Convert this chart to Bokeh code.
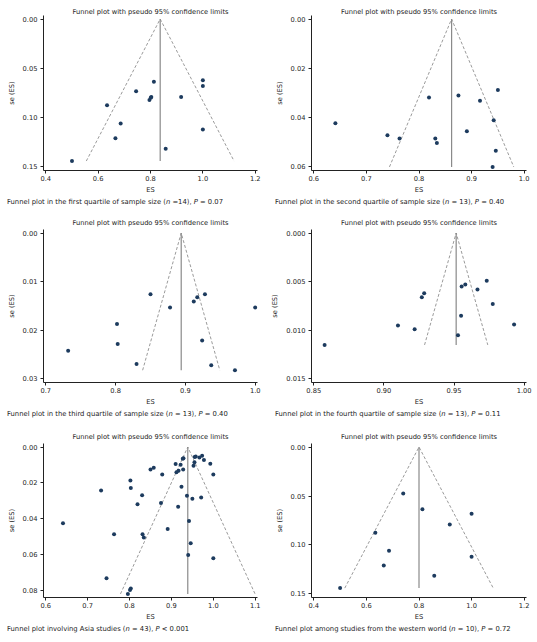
import numpy as np
from bokeh.plotting import figure
from bokeh.models import Range1d, FixedTicker, PrintfTickFormatter, Div
from bokeh.layouts import column, row
from bokeh.embed import file_html
from bokeh.resources import INLINE

FONT = "DejaVu Sans"
DOT = "#1d3b5e"
TXT = "#222222"

# ---------------- data ----------------
# first quartile of sample size (n = 14); region: A = Asia, W = western world
q1_es = [0.813, 1.000, 0.917, 0.634, 0.686, 1.000, 0.666, 0.858, 0.500,
         1.000, 0.745, 0.803, 0.796, 0.801]
q1_se = [0.0635, 0.0680, 0.0790, 0.0875, 0.1060, 0.1120, 0.1210, 0.1315, 0.1440,
         0.0620, 0.0732, 0.0790, 0.0820, 0.0798]
q1_reg = ["W", "W", "W", "W", "W", "W", "W", "W", "W", "A", "A", "A", "A", "A"]

# second quartile (n = 13)
q2_es = [0.950, 0.875, 0.819, 0.916, 0.942, 0.641, 0.891, 0.740, 0.763, 0.831, 0.834, 0.946, 0.940]
q2_se = [0.0289, 0.0312, 0.0320, 0.0333, 0.0413, 0.0425, 0.0457, 0.0474, 0.0487, 0.0487,
         0.0505, 0.0537, 0.0603]
q2_reg = ["A", "A", "A", "A", "A", "A", "A", "W", "A", "A", "A", "A", "A"]

# third quartile (n = 13)
q3_es = [0.850, 0.917, 0.928, 0.912, 0.878, 1.000, 0.802, 0.803, 0.924, 0.732, 0.830, 0.937, 0.971]
q3_se = [0.0126, 0.0132, 0.0126, 0.0141, 0.0153, 0.0153, 0.0187, 0.0228, 0.0221, 0.0242,
         0.0269, 0.0272, 0.0282]
q3_reg = ["A"] * 13

# fourth quartile (n = 13)
q4_es = [0.9733, 0.958, 0.9554, 0.9667, 0.9287, 0.927, 0.9776, 0.955, 0.910, 0.9928,
         0.9219, 0.9528, 0.8577]
q4_se = [0.0049, 0.0053, 0.0055, 0.0058, 0.0062, 0.0066, 0.0073, 0.0085, 0.0095, 0.0094,
         0.0099, 0.0105, 0.0115]
q4_reg = ["A"] * 13

# pooled estimates (centre lines)
pooled_q1, pooled_q2, pooled_q3, pooled_q4 = 0.837, 0.862, 0.894, 0.9515
pooled_asia, pooled_west = 0.939, 0.800

# axis ticks
xt_q1, yt_q1 = [0.4, 0.6, 0.8, 1.0, 1.2], [0.0, 0.05, 0.10, 0.15]
xt_q2, yt_q2 = [0.6, 0.7, 0.8, 0.9, 1.0], [0.0, 0.02, 0.04, 0.06]
xt_q3, yt_q3 = [0.7, 0.8, 0.9, 1.0], [0.0, 0.01, 0.02, 0.03]
xt_q4, yt_q4 = [0.85, 0.90, 0.95, 1.00], [0.0, 0.005, 0.010, 0.015]
xt_as, yt_as = [0.6, 0.7, 0.8, 0.9, 1.0, 1.1], [0.0, 0.02, 0.04, 0.06, 0.08]
xt_we, yt_we = [0.4, 0.6, 0.8, 1.0, 1.2], [0.0, 0.05, 0.10, 0.15]

TITLE = "Funnel plot with pseudo 95% confidence limits"
cap_q1 = "Funnel plot in the first quartile of sample size (<i>n</i> =14), <i>P</i> = 0.07"
cap_q2 = "Funnel plot in the second quartile of sample size (<i>n</i> = 13), <i>P</i> = 0.40"
cap_q3 = "Funnel plot in the third quartile of sample size (<i>n</i> = 13), <i>P</i> = 0.40"
cap_q4 = "Funnel plot in the fourth quartile of sample size (<i>n</i> = 13), <i>P</i> = 0.11"
cap_as = "Funnel plot involving Asia studies (<i>n</i> = 43), <i>P</i> &lt; 0.001"
cap_we = "Funnel plot among studies from the western world (<i>n</i> = 10), <i>P</i> = 0.72"

all_es = q1_es + q2_es + q3_es + q4_es
all_se = q1_se + q2_se + q3_se + q4_se
all_reg = q1_reg + q2_reg + q3_reg + q4_reg
asia_es = [e for e, r in zip(all_es, all_reg) if r == "A"]
asia_se = [s for s, r in zip(all_se, all_reg) if r == "A"]
west_es = [e for e, r in zip(all_es, all_reg) if r == "W"]
west_se = [s for s, r in zip(all_se, all_reg) if r == "W"]

CAP_H = 12


def panel(es, se, pooled, xticks, yticks, xfmt, yfmt, caption,
          width, left, right, top, frame_h, bottom, standoff):
    es = np.asarray(es, float)
    se = np.asarray(se, float)
    se_max = se.max()
    half = 1.96 * se_max
    xlo = min(xticks[0], es.min(), pooled - half)
    xhi = max(xticks[-1], es.max(), pooled + half)
    ylo = min(yticks[0], 0.0)
    yhi = max(yticks[-1], se_max)
    px = 0.011 * (xhi - xlo)
    py = 0.024 * (yhi - ylo)
    p = figure(width=width, height=top + frame_h + bottom,
               x_range=Range1d(xlo - px, xhi + px),
               y_range=Range1d(yhi + py, ylo - py),
               output_backend="svg", toolbar_location=None,
               min_border_left=left, min_border_right=right,
               min_border_top=top, min_border_bottom=bottom,
               title=TITLE)
    p.outline_line_color = None
    p.xgrid.visible = False
    p.ygrid.visible = False
    p.title.align = "center"
    p.title.text_font = FONT
    p.title.text_font_size = "6.7px"
    p.title.text_font_style = "normal"
    p.title.text_color = TXT
    p.title.standoff = standoff

    p.line(x=[pooled - half, pooled, pooled + half], y=[se_max, 0.0, se_max],
           line_dash="3 2", line_color="#808080", line_width=0.8)
    p.segment(x0=[pooled], y0=[0.0], x1=[pooled], y1=[se_max],
              line_color="#8a8a8a", line_width=1.2)
    p.scatter(es, se, size=4, fill_color=DOT, line_color=None)

    xa, ya = p.xaxis[0], p.yaxis[0]
    xa.ticker = FixedTicker(ticks=xticks)
    ya.ticker = FixedTicker(ticks=yticks)
    xa.formatter = PrintfTickFormatter(format=xfmt)
    ya.formatter = PrintfTickFormatter(format=yfmt)
    xa.axis_label = "ES"
    ya.axis_label = "se (ES)"
    for ax in (xa, ya):
        ax.axis_line_color = TXT
        ax.axis_line_width = 1
        ax.major_tick_line_color = TXT
        ax.major_tick_in = 0
        ax.major_tick_out = 3
        ax.minor_tick_line_color = None
        ax.major_label_text_font = FONT
        ax.major_label_text_font_size = "6.7px"
        ax.major_label_text_color = TXT
        ax.axis_label_text_font = FONT
        ax.axis_label_text_font_size = "6.7px"
        ax.axis_label_text_font_style = "normal"
        ax.axis_label_text_color = TXT
    xa.major_label_standoff = 2
    xa.axis_label_standoff = 2
    ya.major_label_standoff = 3
    ya.axis_label_standoff = 4

    html = (f'<span style="color:{TXT};font-family:\'{FONT}\';font-size:6.8px;'
            f'white-space:nowrap;padding-left:7px;line-height:{CAP_H}px">{caption}</span>')
    cap = Div(text=html, width=width, height=CAP_H, margin=(0, 0, 0, 0),
              styles={"color": TXT, "font-size": "6.8px", "line-height": f"{CAP_H}px"})
    return column(p, cap, spacing=0)


W1, L1, R1 = 268, 43, 11
W2, L2, R2 = 268, 43, 10
# per row: top border, frame height, bottom border, title standoff
rows_spec = [(15, 157, 24, 0), (21, 157, 22, 6), (23, 156, 24, 6)]

specs = [
    [(q1_es, q1_se, pooled_q1, xt_q1, yt_q1, "%.1f", "%.2f", cap_q1),
     (q2_es, q2_se, pooled_q2, xt_q2, yt_q2, "%.1f", "%.2f", cap_q2)],
    [(q3_es, q3_se, pooled_q3, xt_q3, yt_q3, "%.1f", "%.2f", cap_q3),
     (q4_es, q4_se, pooled_q4, xt_q4, yt_q4, "%.2f", "%.3f", cap_q4)],
    [(asia_es, asia_se, pooled_asia, xt_as, yt_as, "%.1f", "%.2f", cap_as),
     (west_es, west_se, pooled_west, xt_we, yt_we, "%.1f", "%.2f", cap_we)],
]

rows = []
for (top, fh, bot, so), (a, b) in zip(rows_spec, specs):
    rows.append(row(panel(*a, W1, L1, R1, top, fh, bot, so),
                    panel(*b, W2, L2, R2, top, fh, bot, so), spacing=0))

layout = column(*rows, spacing=0)

with open("out.html", "w") as f:
    f.write(file_html(layout, INLINE))
